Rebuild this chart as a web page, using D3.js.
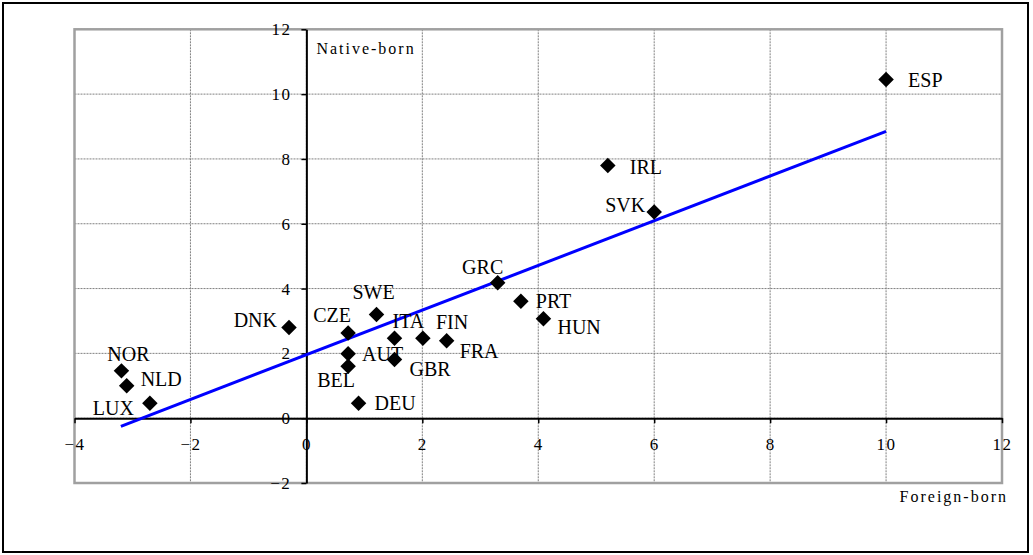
<!DOCTYPE html>
<html>
<head>
<meta charset="utf-8">
<script src="https://cdn.jsdelivr.net/npm/d3@7"></script>
<style>
  html, body { margin: 0; padding: 0; background: #fff; }
  svg { display: block; }
  text { font-family: "Liberation Serif", "Times New Roman", serif; fill: #000; }
</style>
</head>
<body>
<script>
// ---- data ----
const countries   = ["ESP","IRL","SVK","GRC","PRT","HUN","FRA","FIN","ITA","GBR","SWE","CZE","AUT","BEL","DEU","DNK","NOR","NLD","LUX"];
const foreignBorn = [10.00, 5.20, 6.00, 3.30, 3.70, 4.09, 2.42, 2.01, 1.52, 1.52, 1.21, 0.72, 0.72, 0.72, 0.90, -0.30, -3.19, -3.10, -2.70];
const nativeBorn  = [10.45, 7.80, 6.36, 4.18, 3.61, 3.07, 2.39, 2.47, 2.47, 1.81, 3.20, 2.63, 1.99, 1.60, 0.46, 2.80, 1.46, 1.00, 0.46];
const trendX = [-3.2, 10];
const trendY = [-0.25, 8.85];
const xTicks = [-4, -2, 0, 2, 4, 6, 8, 10, 12];
const yTicks = [-2, 0, 2, 4, 6, 8, 10, 12];
const xTitle = "Foreign-born";
const yTitle = "Native-born";

// ---- label placement (layout only: anchor, dx, dy in px) ----
const labelPlacement = {
  ESP: ["start", 22, 0],  IRL: ["start", 22, 2],  SVK: ["end", -9, -7],
  GRC: ["middle", -15, -16], PRT: ["start", 15, 0], HUN: ["start", 14, 8],
  FRA: ["start", 13, 10], FIN: ["start", 13, -16], ITA: ["start", -2, -17],
  GBR: ["start", 15, 9],  SWE: ["middle", -3, -22], CZE: ["middle", -16, -18],
  AUT: ["start", 14, 0],  BEL: ["middle", -12, 14], DEU: ["start", 16, 0],
  DNK: ["end", -12, -7],  NOR: ["middle", 7, -17], NLD: ["start", 14, -7],
  LUX: ["end", -16, 5]
};

const W = 1033, H = 555;
const svg = d3.select("body").append("svg").attr("width", W).attr("height", H);

// outer border
svg.append("rect").attr("x", 3).attr("y", 3).attr("width", 1025).attr("height", 549)
  .attr("fill", "none").attr("stroke", "#000").attr("stroke-width", 2);

const x = d3.scaleLinear().domain([-4, 12]).range([74.5, 1002]);
const y = d3.scaleLinear().domain([-2, 12]).range([483, 29.3]);

// grid
const grid = svg.append("g");
grid.selectAll("line.vx").data(xTicks).join("line")
  .attr("x1", d => x(d)).attr("x2", d => x(d)).attr("y1", y(12)).attr("y2", y(-2))
  .attr("stroke", "#808080").attr("stroke-width", 1).attr("stroke-dasharray", "2,1");
grid.selectAll("line.hy").data(yTicks).join("line")
  .attr("y1", d => y(d)).attr("y2", d => y(d)).attr("x1", x(-4)).attr("x2", x(12))
  .attr("stroke", "#808080").attr("stroke-width", 1).attr("stroke-dasharray", "2,1");

// plot frame
svg.append("rect").attr("x", x(-4)).attr("y", y(12))
  .attr("width", x(12) - x(-4)).attr("height", y(-2) - y(12))
  .attr("fill", "none").attr("stroke", "#a0a0a0").attr("stroke-width", 2.5);

// axes through zero
const yAxis = d3.axisLeft(y).tickValues(yTicks).tickSize(5).tickSizeOuter(0).tickPadding(10);
const xAxis = d3.axisBottom(x).tickValues(xTicks).tickSize(5).tickSizeOuter(0).tickPadding(15);

const gy = svg.append("g").attr("transform", `translate(${x(0)},0)`).call(yAxis);
const gx = svg.append("g").attr("transform", `translate(0,${y(0)})`).call(xAxis);
[gx, gy].forEach(g => {
  g.select(".domain").attr("stroke", "#000").attr("stroke-width", 2);
  g.selectAll(".tick line").attr("stroke", "#000").attr("stroke-width", 1.5);
  g.selectAll(".tick text")
    .style("font-family", '"Liberation Serif", "Times New Roman", serif')
    .style("font-size", "17px").style("letter-spacing", "1.5px").attr("fill", "#000");
});

// axis titles
svg.append("text").attr("x", x(0) + 10).attr("y", 54)
  .style("font-size", "16px").style("letter-spacing", "2px").text(yTitle);
svg.append("text").attr("x", 1008).attr("y", 502).attr("text-anchor", "end")
  .style("font-size", "16px").style("letter-spacing", "2px").text(xTitle);

// trend line
const line = d3.line().x(d => x(d[0])).y(d => y(d[1]));
svg.append("path").datum(trendX.map((v, i) => [v, trendY[i]]))
  .attr("d", line).attr("fill", "none").attr("stroke", "#0000ff").attr("stroke-width", 3);

// points
const pts = countries.map((c, i) => ({ c, fx: foreignBorn[i], nb: nativeBorn[i] }));
const diamond = d3.symbol().type(d3.symbolSquare).size(120);
svg.append("g").selectAll("path").data(pts).join("path")
  .attr("d", diamond)
  .attr("transform", d => `translate(${x(d.fx)},${y(d.nb)}) rotate(45)`)
  .attr("fill", "#000");

// labels
svg.append("g").selectAll("text").data(pts).join("text")
  .attr("x", d => x(d.fx) + labelPlacement[d.c][1])
  .attr("y", d => y(d.nb) + labelPlacement[d.c][2])
  .attr("dy", "0.35em")
  .attr("text-anchor", d => labelPlacement[d.c][0])
  .style("font-size", "20px")
  .text(d => d.c);
</script>
</body>
</html>
